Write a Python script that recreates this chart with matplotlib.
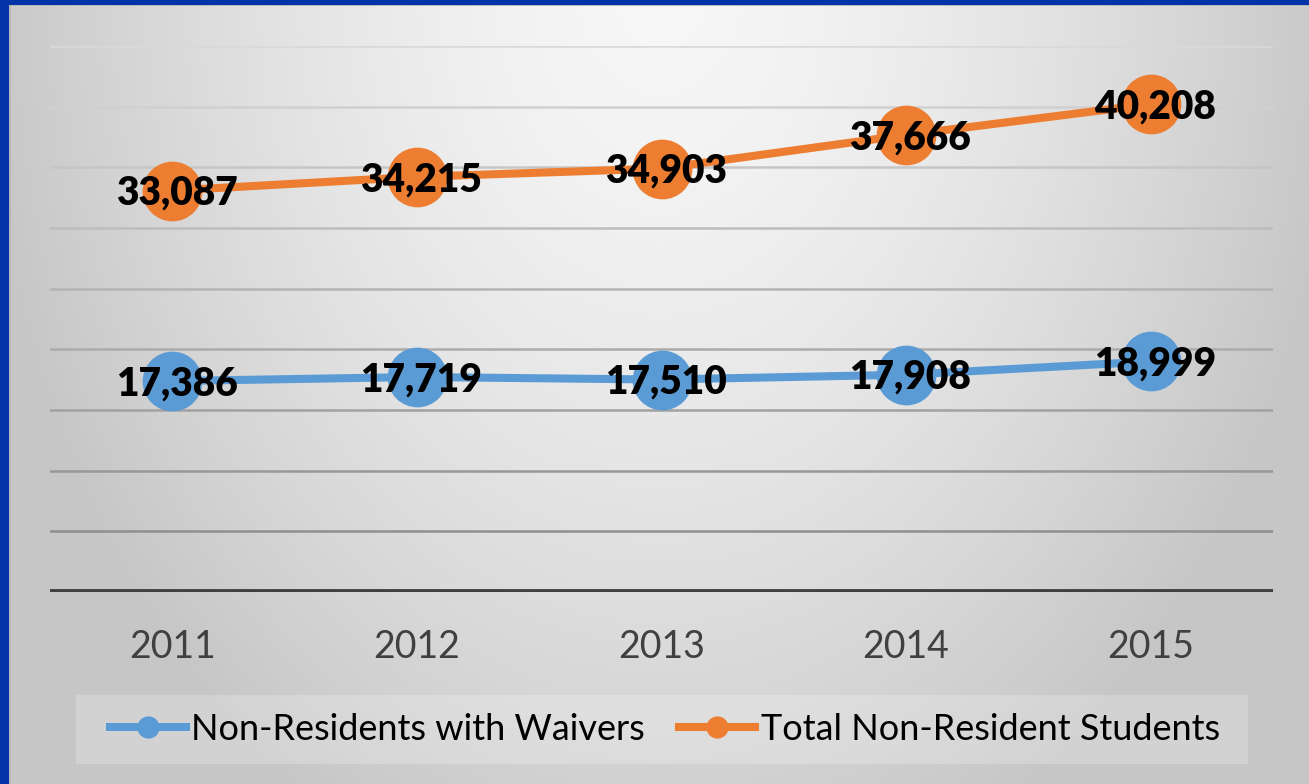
import numpy as np
import matplotlib
matplotlib.use("Agg")
import matplotlib.pyplot as plt
from matplotlib.lines import Line2D

years = ["2011", "2012", "2013", "2014", "2015"]
waivers = [17386, 17719, 17510, 17908, 18999]
total = [33087, 34215, 34903, 37666, 40208]
series_names = ["Non-Residents with Waivers", "Total Non-Resident Students"]
colors = ["#5b9bd5", "#ed7d31"]

plt.rcParams['font.family'] = ['Lato', 'DejaVu Sans']

W, H = 1309, 784
fig = plt.figure(figsize=(W / 100, H / 100), dpi=100)

# background radial gradient
bg = fig.add_axes([0, 0, 1, 1], zorder=-10)
yy, xx = np.mgrid[0:H, 0:W]
d = np.sqrt(((xx - 660) / 660.0) ** 2 + ((yy + 20) / 920.0) ** 2)
val = np.clip(247 - 46 * d ** 1.5, 198, 247) / 255.0
img = np.dstack([val, val, val])
bg.imshow(img, extent=[0, W, H, 0], aspect='auto', interpolation='bilinear')
bg.set_xlim(0, W)
bg.set_ylim(H, 0)
bg.axis('off')
# blue border (left & top) and thin gray inner line
bg.add_patch(plt.Rectangle((0, 0), 9, H, color="#0433a8", lw=0))
bg.add_patch(plt.Rectangle((0, 0), W, 4.5, color="#0433a8", lw=0))
bg.add_patch(plt.Rectangle((9, 4.5), W, 1.8, color="#b8b8b8", lw=0))
bg.add_patch(plt.Rectangle((9, 4.5), 1.8, H, color="#b8b8b8", lw=0))
# legend background box
bg.add_patch(plt.Rectangle((76, 695), 1172, 69, facecolor=(1, 1, 1, 0.22),
                           lw=0))

ax = fig.add_axes([50 / W, 1 - 592 / H, (1273 - 50) / W, (592 - 46) / H])
ax.set_facecolor('none')
x = np.arange(len(years))
ax.set_xlim(-0.5, len(years) - 0.5)
ax.set_ylim(0, 45000)

# gridlines, darker toward bottom
gvals = np.arange(5000, 45001, 5000)
for g in gvals:
    t = (45000 - g) / 40000.0
    c = 0.85 - 0.29 * t
    ax.axhline(g, color=(c, c, c), lw=1.8, zorder=1)
ax.axhline(0, color="#404040", lw=4.2, zorder=2, solid_capstyle='butt')

for vals, col, name in zip([waivers, total], colors, series_names):
    ax.plot(x, vals, color=col, lw=5.8, marker='o', markersize=43,
            markeredgewidth=0, zorder=3, label=name, solid_capstyle='round')
    for xi, v in zip(x, vals):
        ax.annotate(f"{v:,}", (xi, v), xytext=(3, -2), textcoords='offset points',
                    ha='center', va='center', fontsize=28, fontweight='heavy',
                    color='black', zorder=5)

ax.set_xticks(x)
ax.set_xticklabels(years)
ax.set_yticks([])
ax.tick_params(axis='x', length=0, pad=27, labelsize=27, labelcolor="#404040")
for s in ax.spines.values():
    s.set_visible(False)

handles = [Line2D([0], [0], color=c, lw=5.8, marker='o', markersize=16,
                  markeredgewidth=0) for c in colors]
leg = fig.legend(handles, series_names, loc='center left',
                 bbox_to_anchor=(110 / W, 1 - 729.5 / H), ncol=2,
                 fontsize=26, frameon=False,
                 handlelength=2.1, handletextpad=0.15, columnspacing=0.95,
                 borderpad=0, borderaxespad=0, labelcolor='black')

fig.savefig("out.png", dpi=100)
